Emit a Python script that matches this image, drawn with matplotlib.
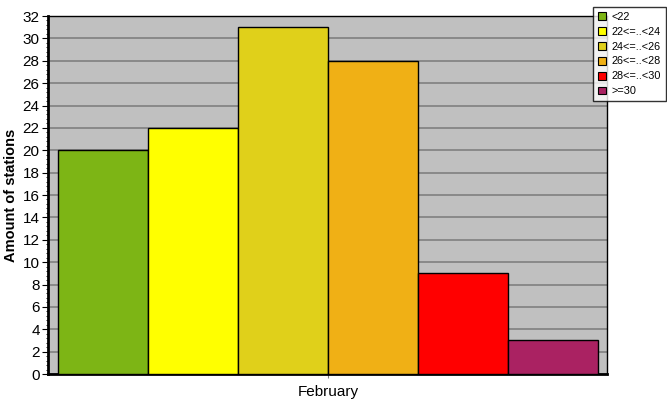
import matplotlib
matplotlib.use("Agg")
import matplotlib.pyplot as plt
from matplotlib.patches import Patch
from matplotlib.ticker import MultipleLocator

plt.rcParams["font.family"] = ["Liberation Sans", "DejaVu Sans"]

# Data
categories = ["<22", "22<=..<24", "24<=..<26", "26<=..<28", "28<=..<30", ">=30"]
counts = [20, 22, 31, 28, 9, 3]
colors = ["#7DB515", "#FFFF00", "#E0D01A", "#F0B015", "#FF0000", "#AA2262"]
month = "February"

fig = plt.figure(figsize=(6.67, 4.15), dpi=100)
ax = fig.add_axes([48 / 667, 41 / 415, 559 / 667, 358 / 415])
ax.set_facecolor("#C0C0C0")

positions = list(range(len(counts)))
ax.bar(positions, counts, width=1.0, color=colors, edgecolor="black",
       linewidth=1.0, zorder=3)

ax.set_xlim(-0.5 - 10 / 90, len(counts) - 0.5 + 9 / 90)
ax.set_ylim(0, 32)
ax.yaxis.set_major_locator(MultipleLocator(2))
ax.yaxis.set_minor_locator(MultipleLocator(0.4))
ax.grid(axis="y", color="#808080", linewidth=1.2, zorder=1)
ax.set_axisbelow(True)

ax.set_xticks([(len(counts) - 1) / 2])
ax.set_xticklabels([month], fontsize=11)
ax.tick_params(axis="x", length=3, color="#808080", pad=5)
ax.tick_params(axis="y", which="major", length=4, labelsize=11, pad=2)
ax.tick_params(axis="y", which="minor", length=1.5)

for side in ["left", "bottom"]:
    ax.spines[side].set_linewidth(2)
for side in ["top", "right"]:
    ax.spines[side].set_linewidth(1)

ax.set_ylabel("Amount of stations", fontsize=10.5, fontweight="bold", labelpad=3)

handles = [Patch(facecolor=c, edgecolor="black", linewidth=0.8) for c in colors]
leg = fig.legend(handles, categories, loc="upper right",
                 bbox_to_anchor=(666 / 667, 1 - 7 / 415), fontsize=7.8,
                 frameon=True, fancybox=False, edgecolor="black",
                 handlelength=0.75, handleheight=0.75, handletextpad=0.5,
                 labelspacing=0.45, borderpad=0.45, borderaxespad=0)
leg.get_frame().set_linewidth(1)

fig.savefig("out.png", dpi=100)
